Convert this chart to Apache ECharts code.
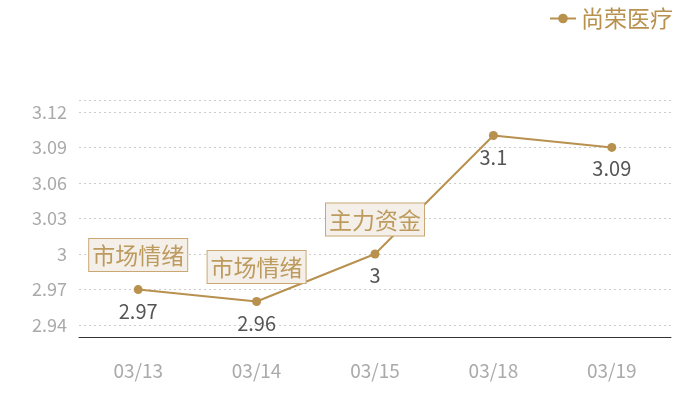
<!DOCTYPE html>
<html><head><meta charset="utf-8">
<script src="https://cdn.jsdelivr.net/npm/echarts@6/dist/echarts.min.js"></script>
<style>html,body{margin:0;padding:0;background:#fff}#c{width:700px;height:400px}</style>
</head><body><div id="c"></div>
<script>
const categories = ['03/13', '03/14', '03/15', '03/18', '03/19'];
const values = [2.97, 2.96, 3, 3.1, 3.09];
const seriesName = '尚荣医疗';
const markNames = ['市场情绪', '市场情绪', '主力资金'];
const markCats = ['03/13', '03/14', '03/15'];
const markVals = [2.97, 2.96, 3];
const yMin = 2.93, yMax = 3.13;

const gold = '#b8914f';
const font = '"Noto Sans CJK SC", "Noto Sans", sans-serif';
const chart = echarts.init(document.getElementById('c'));
chart.setOption({
  animation: false,
  textStyle: { fontFamily: font },
  legend: {
    right: 22, top: 2,
    itemWidth: 26, itemHeight: 12, itemGap: 8,
    textStyle: { fontSize: 23, color: gold, fontFamily: font },
    data: [seriesName]
  },
  grid: { left: 79, right: 29, top: 100, bottom: 63 },
  xAxis: {
    type: 'category', data: categories,
    axisLine: { lineStyle: { color: '#333' } },
    axisTick: { show: false },
    axisLabel: { color: '#aaa', fontSize: 19, margin: 24, fontFamily: font }
  },
  yAxis: {
    type: 'value', min: yMin, max: yMax, splitNumber: 7,
    axisLine: { show: false }, axisTick: { show: false },
    axisLabel: { color: '#aaa', fontSize: 18, margin: 12, showMinLabel: false, showMaxLabel: false, fontFamily: font },
    splitLine: { lineStyle: { color: '#ccc', type: [2, 3] } }
  },
  series: [{
    name: seriesName, type: 'line', data: values,
    symbol: 'circle', symbolSize: 9,
    lineStyle: { color: gold, width: 2 },
    itemStyle: { color: gold },
    label: { show: true, position: 'bottom', distance: 7, color: '#555', fontSize: 20, fontFamily: font },
    markPoint: {
      symbol: 'circle', symbolSize: 1,
      itemStyle: { color: 'rgba(0,0,0,0)' },
      label: {
        show: true, position: 'top', distance: 18, formatter: '{b}',
        color: '#bd9a5e', fontSize: 23, lineHeight: 25, fontFamily: font,
        backgroundColor: '#f4efe8', borderColor: '#c9a874', borderWidth: 1,
        padding: [4, 3, 3, 3]
      },
      data: markNames.map((n, i) => ({ name: n, coord: [markCats[i], markVals[i]] }))
    }
  }]
});
</script></body></html>
